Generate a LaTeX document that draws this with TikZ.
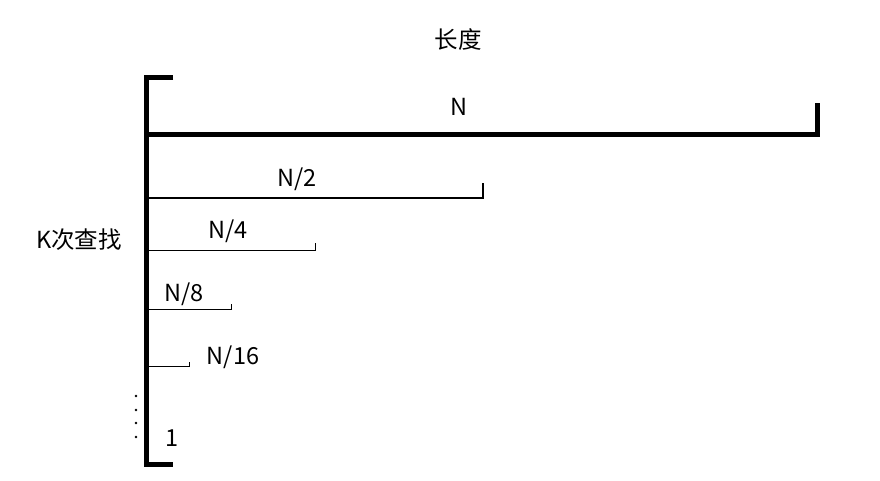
\documentclass[tikz,border=0pt]{standalone}
\usepackage{fontspec}
\setmainfont{Noto Sans CJK SC}

\begin{document}
\begin{tikzpicture}[
  x=1pt,y=-1pt,
  size_label/.style={
    font=\fontsize{23.5}{26}\selectfont, inner sep=0pt
  },
  bracket_line/.style={
    line width=5pt, line join=miter
  }]
  %
  \useasboundingbox (0,0) rectangle (880,481);
  \node[size_label] (title) at (458,40) {长度};
  \node[size_label] (steps) at (79,240) {K次查找};
  % left bracket
  \coordinate (brk_top) at (173,78);
  \coordinate (brk_bot) at (173,464);
  \draw[bracket_line] (brk_top) -- (146,78) -- (146,464) -- (brk_bot);
  % halving lengths
  \foreach \n/\len/\y/\h/\w/\lab/\lx/\ly in {
      1/817/135/32/5pt/N/459/107,
      2/483/198/15/2pt/N\slash 2/297/179,
      4/315/250/7/1pt/N\slash 4/228/231,
      8/231/309/5/1pt/N\slash 8/184/294,
      16/189/366/4/1pt/N\slash 16/233/357} {
    \coordinate (seg_\n_start) at (146,\y);
    \coordinate (seg_\n_end) at (\len,\y);
    \draw[line width=\w, line join=miter] (seg_\n_start) -- (seg_\n_end) -- ++(0,-\h);
    \node[size_label] (lab_\n) at (\lx,\ly) {\lab};
  }
  \foreach \y in {396,410,423,437} {
    \fill (136,\y) circle (1.3);
  }
  \node[size_label] (lab_one) at (172,438) {1};
\end{tikzpicture}
\end{document}
